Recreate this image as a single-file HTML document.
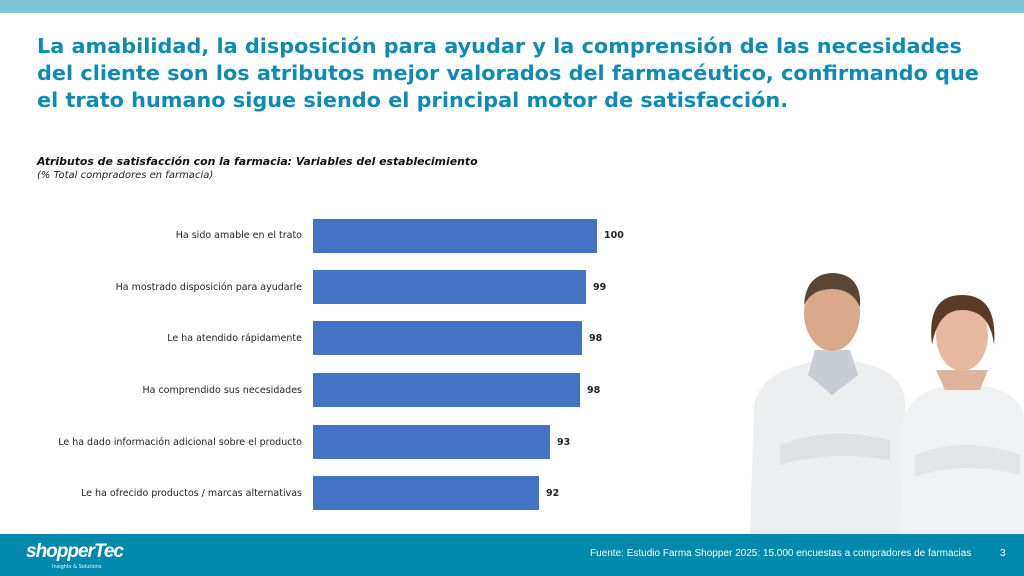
<!DOCTYPE html>
<html><head><meta charset="utf-8"><style>
body{margin:0;width:1024px;height:576px;position:relative;overflow:hidden;background:#fff;font-family:"DejaVu Sans","Liberation Sans",sans-serif}
.top{position:absolute;left:0;top:0;width:1024px;height:13px;background:#7fc3d7}
.title{position:absolute;left:37px;top:33px;width:960px;color:#0e8bb5;font-weight:bold;font-size:20.8px;line-height:27px}
.sub{position:absolute;left:37px;top:155px;font-size:10.9px;font-style:italic;font-weight:bold;color:#111}
.sub2{position:absolute;left:37px;top:170px;font-size:10px;font-style:italic;color:#222}
.bar{position:absolute;left:313px;height:34px;background:#4472c4}
.lab{position:absolute;right:722px;font-size:9.5px;color:#222;white-space:nowrap}
.val{position:absolute;font-size:9.5px;font-weight:bold;color:#222}
.foot{position:absolute;left:0;top:534px;width:1024px;height:42px;background:#0088ad}
.logo{position:absolute;left:26px;top:541px;color:#fff;font-style:italic;font-weight:bold;font-size:19px;font-family:"Liberation Sans",sans-serif;letter-spacing:-1px}
.logo2{position:absolute;left:52px;top:564px;color:#fff;font-size:5px}
.src{position:absolute;left:590px;top:548px;color:#fff;font-size:10px;font-family:"Liberation Sans",sans-serif}
.pg{position:absolute;left:1000px;top:548px;color:#fff;font-size:10px;font-family:"Liberation Sans",sans-serif}
</style></head><body>
<div class="top"></div>
<div class="title">La amabilidad, la disposición para ayudar y la comprensión de las necesidades<br>del cliente son los atributos mejor valorados del farmacéutico, confirmando que<br>el trato humano sigue siendo el principal motor de satisfacción.</div>
<div class="sub">Atributos de satisfacción con la farmacia: Variables del establecimiento</div>
<div class="sub2">(% Total compradores en farmacia)</div>

<div class="bar" style="top:219px;width:284px"></div><div class="lab" style="top:230px">Ha sido amable en el trato</div><div class="val" style="left:604px;top:230px">100</div>
<div class="bar" style="top:270px;width:273px"></div><div class="lab" style="top:282px">Ha mostrado disposición para ayudarle</div><div class="val" style="left:593px;top:282px">99</div>
<div class="bar" style="top:321px;width:269px"></div><div class="lab" style="top:333px">Le ha atendido rápidamente</div><div class="val" style="left:589px;top:333px">98</div>
<div class="bar" style="top:373px;width:267px"></div><div class="lab" style="top:385px">Ha comprendido sus necesidades</div><div class="val" style="left:587px;top:385px">98</div>
<div class="bar" style="top:425px;width:237px"></div><div class="lab" style="top:437px">Le ha dado información adicional sobre el producto</div><div class="val" style="left:557px;top:437px">93</div>
<div class="bar" style="top:476px;width:226px"></div><div class="lab" style="top:488px">Le ha ofrecido productos / marcas alternativas</div><div class="val" style="left:546px;top:488px">92</div>

<svg style="position:absolute;left:740px;top:265px" width="284" height="270">
<path d="M10 270 L14 140 Q20 110 60 100 L90 90 L130 100 Q165 110 165 140 L168 270Z" fill="#eceeef"/>
<path d="M160 270 L162 160 Q168 130 200 122 L225 115 L250 122 Q280 130 284 150 L284 270Z" fill="#f0f1f2"/>
<path d="M75 85 L110 85 L118 110 L92 130 L68 110Z" fill="#c8ccd3"/>
<ellipse cx="92" cy="48" rx="28" ry="38" fill="#d9a98c"/>
<path d="M64 40 Q66 8 94 8 Q122 10 120 42 Q112 24 92 24 Q72 24 64 40Z" fill="#5a4535"/>
<path d="M196 105 L248 105 L240 125 L205 125Z" fill="#e0b49c"/>
<ellipse cx="222" cy="70" rx="26" ry="36" fill="#e6b8a0"/>
<path d="M192 80 Q186 30 222 30 Q258 30 254 80 Q250 45 222 45 Q198 45 192 80Z" fill="#5c3a28"/>
<path d="M40 180 Q90 160 150 175 L150 195 Q90 185 40 200Z" fill="#dfe2e4"/>
<path d="M175 190 Q225 170 280 190 L280 210 Q225 195 175 212Z" fill="#e3e5e7"/>
</svg>

<div class="foot"></div>
<div class="logo">shopperTec</div>
<div class="logo2">Insights &amp; Solutions</div>
<div class="src">Fuente: Estudio Farma Shopper 2025: 15.000 encuestas a compradores de farmacias</div>
<div class="pg">3</div>
</body></html>
